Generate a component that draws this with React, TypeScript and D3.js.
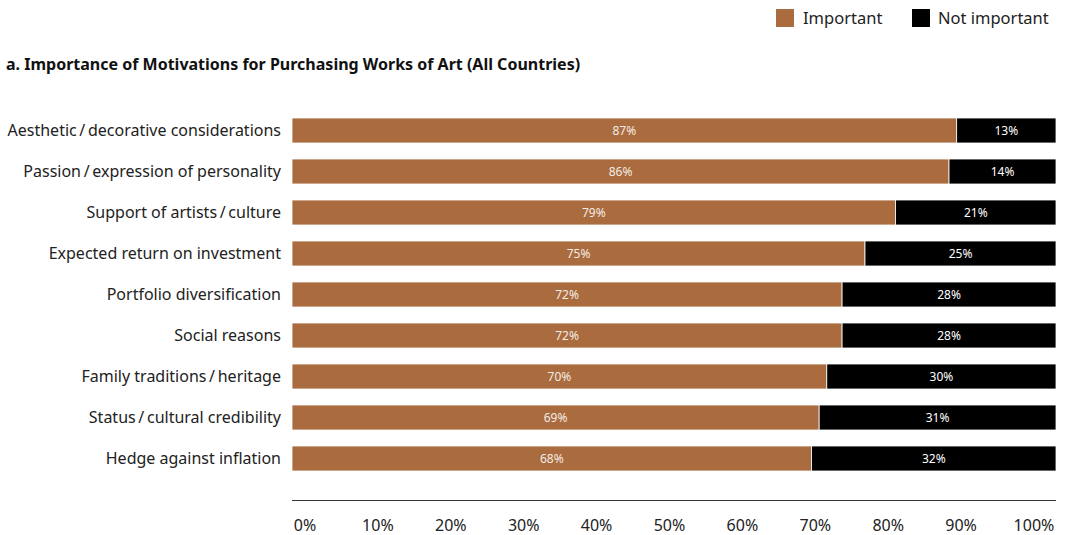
import React from "react";
import * as d3 from "d3";

const categories = [
  "Aesthetic\u2009/\u2009decorative considerations",
  "Passion\u2009/\u2009expression of personality",
  "Support of artists\u2009/\u2009culture",
  "Expected return on investment",
  "Portfolio diversification",
  "Social reasons",
  "Family traditions\u2009/\u2009heritage",
  "Status\u2009/\u2009cultural credibility",
  "Hedge against inflation",
];
const important = [87, 86, 79, 75, 72, 72, 70, 69, 68];
const notImportant = [13, 14, 21, 25, 28, 28, 30, 31, 32];
const ticks = [0, 10, 20, 30, 40, 50, 60, 70, 80, 90, 100];
const seriesNames = ["Important", "Not important"];
const colors = ["#AA6B3E", "#000000"];

const W = 1065;
const H = 535;
const FONT = "'Noto Sans', sans-serif";

export default function App() {
  const x = d3.scaleLinear().domain([0, 100]).range([292, 1056]);
  // tick labels are spread so that the first starts at the axis start and the last ends at the axis end
  const xLabel = d3.scaleLinear().domain([0, 100]).range([305, 1034]);
  const y = d3
    .scaleBand()
    .domain(categories)
    .range([110, 110 + 41 * categories.length])
    .paddingInner(16 / 41)
    .paddingOuter(8 / 41);
  const bh = y.bandwidth();
  return (
    <svg width={W} height={H} style={{ position: "absolute", left: 0, top: 0, background: "#fff" }} fontFamily={FONT}>
      <rect x={776} y={9} width={18} height={18} fill={colors[0]} />
      <text x={803} y={24} fontSize={16.5} fill="#222">{seriesNames[0]}</text>
      <rect x={912} y={9} width={18} height={18} fill={colors[1]} />
      <text x={938} y={24} fontSize={16.5} fill="#222">{seriesNames[1]}</text>
      <text x={6} y={70} fontSize={16} fontWeight="bold" fill="#111">
        a. Importance of Motivations for Purchasing Works of Art (All Countries)
      </text>
      {categories.map((c, i) => {
        const yy = y(c)!;
        const a = important[i];
        const b = notImportant[i];
        return (
          <g key={c}>
            <text x={281} y={yy + bh / 2} dy="0.35em" textAnchor="end" fontSize={16} fill="#222">
              {c}
            </text>
            <rect x={x(0)} y={yy} width={x(a) - x(0)} height={bh} fill={colors[0]} stroke="#fff" strokeWidth={0.8} />
            <rect x={x(a)} y={yy} width={x(a + b) - x(a)} height={bh} fill={colors[1]} stroke="#fff" strokeWidth={0.8} />
            <text x={(x(0) + x(a)) / 2} y={yy + bh / 2} dy="0.35em" textAnchor="middle" fontSize={12} fill="#f4ece6">
              {a}%
            </text>
            <text x={(x(a) + x(a + b)) / 2} y={yy + bh / 2} dy="0.35em" textAnchor="middle" fontSize={12} fill="#fff">
              {b}%
            </text>
          </g>
        );
      })}
      <line x1={x(0)} x2={x(100)} y1={500.5} y2={500.5} stroke="#333" strokeWidth={1} />
      {ticks.map((t) => (
        <text key={t} x={xLabel(t)} y={531} textAnchor="middle" fontSize={16} fill="#222">
          {t}%
        </text>
      ))}
    </svg>
  );
}
